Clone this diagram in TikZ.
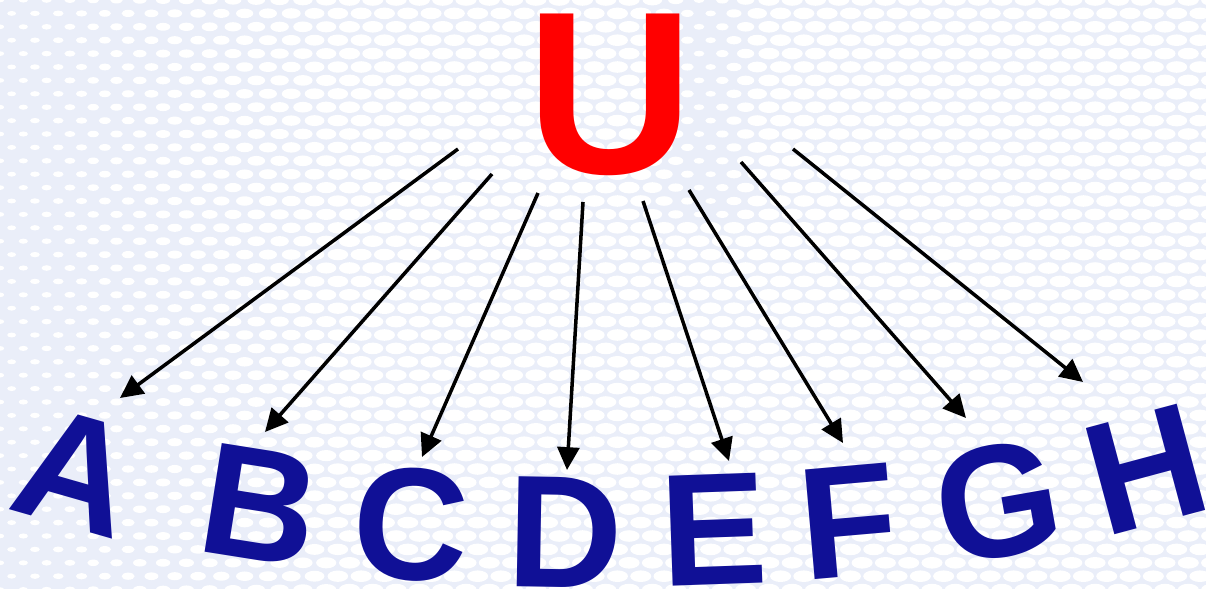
\documentclass[tikz,border=0pt]{standalone}
\usepackage{fontspec}
\setmainfont{Liberation Sans}
\usetikzlibrary{arrows.meta}

\definecolor{letterblue}{RGB}{16,16,150}
\definecolor{backblue}{RGB}{234,238,249}

\tikzset{
    letter/.style={font=\fontsize{91}{91}\selectfont\bfseries, text=letterblue, inner sep=0pt},
    bigletter/.style={font=\fontsize{132}{132}\selectfont\bfseries, text=red, inner sep=0pt},
    fan/.style={line width=2pt, -{Triangle[length=13pt,width=12.5pt]}}
}

\begin{document}
\begin{tikzpicture}[x=0.02cm, y=-0.02cm]
    % Background with dots
    \useasboundingbox (0,0) rectangle (1206,589);
    \fill[backblue] (0,0) rectangle (1206,589);
    \foreach \i in {0,...,52}{
        \foreach \j in {0,...,44}{
            \pgfmathsetmacro{\px}{\i*23.3+mod(\j,2)*11.65}
            \pgfmathsetmacro{\f}{(0.4+0.6*min(1,\px/350))*(1-0.55*max(0,1-abs(\px-705)/60)*(\j<17))}
            \fill[white] (\px,\j*13.4) ellipse [x radius=6pt*\f, y radius=3.3pt*\f];
        }
    }

    % Top letter
    \node[bigletter] (U) at (610,95) {U};

    % Letters on the arc
    \node[letter, rotate=-16] (A) at (76,472) {A};
    \node[letter, rotate=-9] (B) at (260,505) {B};
    \node[letter, rotate=-3] (C) at (411,525) {C};
    \node[letter, rotate=-1] (D) at (565,533) {D};
    \node[letter, rotate=2] (E) at (714,530) {E};
    \node[letter, rotate=5] (F) at (848,521) {F};
    \node[letter, rotate=10] (G) at (998,501) {G};
    \node[letter, rotate=15] (H) at (1146,469) {H};

    % Arrow starts below U
    \coordinate (sA) at (458,149);
    \coordinate (sB) at (492,174);
    \coordinate (sC) at (538,193);
    \coordinate (sD) at (583,202);
    \coordinate (sE) at (643,201);
    \coordinate (sF) at (689,190);
    \coordinate (sG) at (741,162);
    \coordinate (sH) at (793,149);

    % Arrow tips above the letters
    \coordinate (tA) at (120,398);
    \coordinate (tB) at (265,432);
    \coordinate (tC) at (422,457);
    \coordinate (tD) at (567,470);
    \coordinate (tE) at (729,461);
    \coordinate (tF) at (843,443);
    \coordinate (tG) at (966,418);
    \coordinate (tH) at (1083,382);

    % Draw the arrows
    \draw[fan] (sA) -- (tA);
    \draw[fan] (sB) -- (tB);
    \draw[fan] (sC) -- (tC);
    \draw[fan] (sD) -- (tD);
    \draw[fan] (sE) -- (tE);
    \draw[fan] (sF) -- (tF);
    \draw[fan] (sG) -- (tG);
    \draw[fan] (sH) -- (tH);
\end{tikzpicture}
\end{document}
